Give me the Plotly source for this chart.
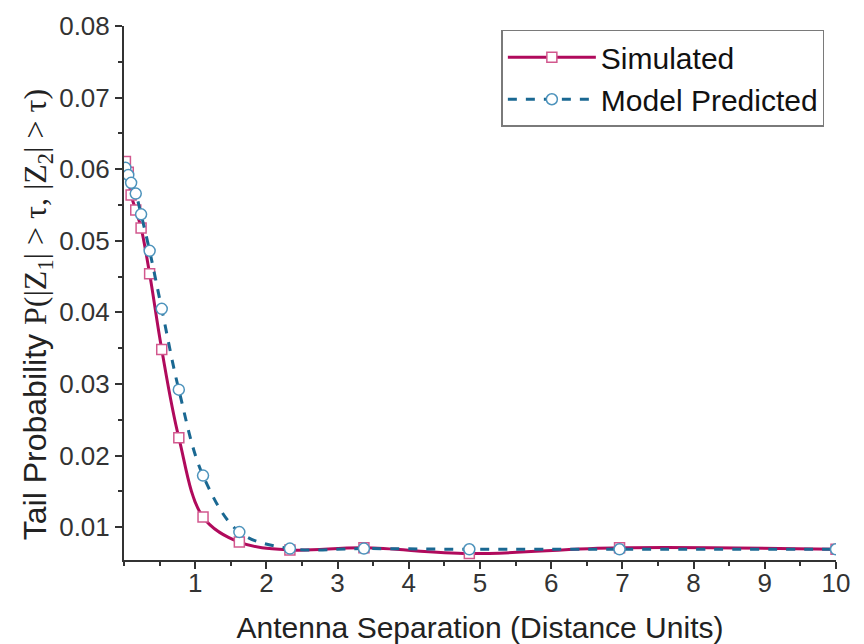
import plotly.graph_objects as go

# Antenna separation (distance units) – shared by both series
separation = [0.02, 0.06, 0.10, 0.165, 0.24, 0.36, 0.53, 0.77, 1.11, 1.62, 2.33, 3.37, 4.85, 6.96, 10.0]

# Simulated tail probability
simulated = [0.0611, 0.0596, 0.0564, 0.0543, 0.0518, 0.0454, 0.0348, 0.0225, 0.0114, 0.0079, 0.0068,
             0.0071, 0.0063, 0.0071, 0.0069]

# Model predicted tail probability
model = [0.0602, 0.0592, 0.0581, 0.0566, 0.0537, 0.0486, 0.0405, 0.0292, 0.0172, 0.0093, 0.0070,
         0.0070, 0.0069, 0.0069, 0.0069]

x_ticks = [1, 2, 3, 4, 5, 6, 7, 8, 9, 10]
y_ticks = [0.01, 0.02, 0.03, 0.04, 0.05, 0.06, 0.07, 0.08]
y_tick_text = ["0.01", "0.02", "0.03", "0.04", "0.05", "0.06", "0.07", "0.08"]

SANS = "Liberation Sans, Arial, sans-serif"
SERIF = "Liberation Serif, Times New Roman, serif"

fig = go.Figure()
fig.add_trace(go.Scatter(
    x=separation, y=simulated, name="Simulated",
    mode="lines+markers",
    line=dict(color="#B00A5C", width=3, shape="spline", smoothing=1.0),
    marker=dict(symbol="square", size=10, color="white",
                line=dict(color="#D2588E", width=1.5)),
))
fig.add_trace(go.Scatter(
    x=separation, y=model, name="Model Predicted",
    mode="lines+markers",
    line=dict(color="#1A6892", width=3, dash="dash", shape="spline", smoothing=1.0),
    marker=dict(symbol="circle", size=11, color="white",
                line=dict(color="#4D93BC", width=1.5)),
))

ytitle = ("Tail Probability "
          f"<span style='font-family:{SERIF}'>P(|Z<sub>1</sub>| &gt; τ, |Z<sub>2</sub>| &gt; τ)</span>")

fig.update_layout(
    width=856, height=636,
    margin=dict(l=116, r=28, t=18, b=84),
    paper_bgcolor="white", plot_bgcolor="white",
    font=dict(family=SANS, color="#222222", size=24),
    showlegend=True,
    legend=dict(
        x=0.53, y=0.993, xanchor="left", yanchor="top",
        bordercolor="#7a7a7a", borderwidth=1.5, bgcolor="white",
        font=dict(size=30, family=SANS, color="#111111"),
        itemwidth=88, tracegroupgap=0,
        entrywidth=250, entrywidthmode="pixels",
    ),
    xaxis=dict(
        range=[0, 10], tickvals=x_ticks, ticktext=[str(v) for v in x_ticks],
        showgrid=False, zeroline=False, automargin=False,
        showline=True, linecolor="#333333", linewidth=2,
        ticks="outside", ticklen=7, tickwidth=2, tickcolor="#333333",
        minor=dict(ticks="outside", dtick=0.5, tick0=0, ticklen=4, tickwidth=2, tickcolor="#333333"),
        tickfont=dict(size=26, color="#333333"),
        ticklabelstandoff=-8, ticklabeloverflow="allow",
        title=dict(text="Antenna Separation (Distance Units)", font=dict(size=30, color="#222222"), standoff=20),
    ),
    yaxis=dict(
        range=[0.0054, 0.08002], tickvals=y_ticks, ticktext=y_tick_text,
        showgrid=False, zeroline=False, automargin=False,
        showline=True, linecolor="#333333", linewidth=2,
        ticks="outside", ticklen=7, tickwidth=2, tickcolor="#333333",
        minor=dict(ticks="outside", dtick=0.005, tick0=0, ticklen=4, tickwidth=2, tickcolor="#333333"),
        tickfont=dict(size=26, color="#333333"),
        ticklabeloverflow="allow",
    ),
    annotations=[dict(
        text=ytitle, textangle=-90, xref="paper", yref="paper",
        x=-0.121, y=0.46, xanchor="center", yanchor="middle", showarrow=False,
        font=dict(size=32, family=SANS, color="#222222"),
    )],
)

fig.write_html("out.html")
